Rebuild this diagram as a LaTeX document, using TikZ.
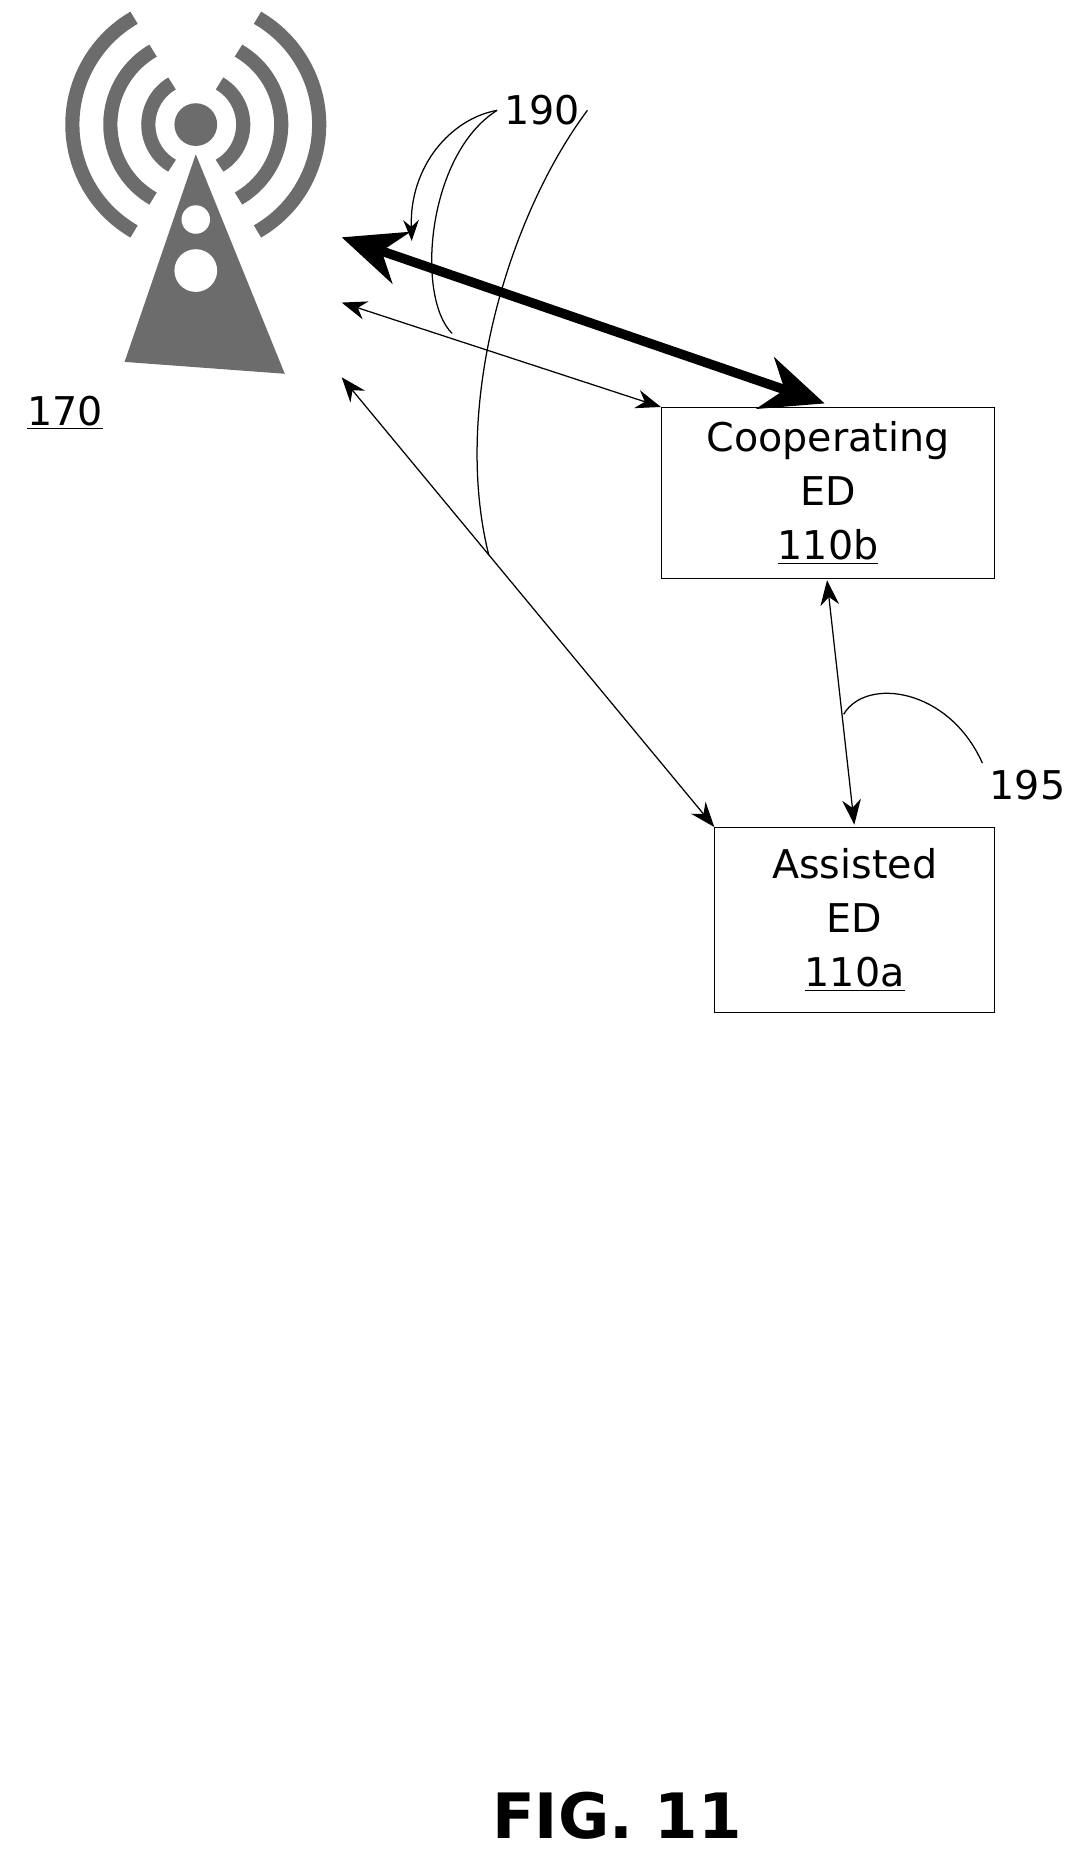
\documentclass[tikz,border=0pt]{standalone}
\usepackage{fontspec}
\setmainfont{DejaVu Sans}
\usetikzlibrary{positioning,arrows.meta,patterns}
\begin{document}
\begin{tikzpicture}[
x=0.02cm, y=-0.02cm,
box/.style={
  draw,
  thin,
  align=center,
  font=\fontsize{19}{26}\selectfont
  },
wave/.style={
  line width=12pt*0.567,
  draw=gray!85!black
  },
link/.style={
  <->,
  >={Stealth[length=12pt,width=9pt]},
  semithick
  },
lbl/.style={
  font=\fontsize{19}{22}\selectfont
  }
]
\useasboundingbox (0,0) rectangle (910,1560);

% tower
\fill[gray!85!black] (165,130) -- (105,305) -- (240,315) -- cycle;
\fill[white] (165,185) circle (12) (165,228) circle (18);
\fill[gray!85!black] (165,105) circle (18);
\foreach \r in {40,72,104}
{
  \draw[wave] (165,105) ++(120:\r) arc (120:240:\r);
  \draw[wave] (165,105) ++(60:\r) arc (60:-60:\r);
}
\node[lbl] (bs) at (55,348) {\underline{170}};

% devices
\node[box, anchor=north west, minimum width=5.62cm, minimum height=2.88cm] (coop) at (557,343) {Cooperating\\ED\\\underline{110b}};
\node[box, anchor=north west, minimum width=4.72cm, minimum height=3.12cm] (assist) at (602,697) {Assisted\\ED\\\underline{110a}};

\coordinate (t1) at (288,200);
\coordinate (t2) at (288,255);
\coordinate (t3) at (288,318);

% links
\draw[<->, >={Stealth[length=30pt,width=26pt]}, line width=8pt*0.567] (t1) -- (695,340);
\draw[link] (t2) -- (coop.north west);
\draw[link] (t3) -- (assist.north west);
\draw[link] (697,489) -- (720,695);

% reference labels
\node[lbl] (r190) at (457,93) {190};
\node[lbl] (r195) at (866,662) {195};
\draw[semithick, -{Stealth[length=10pt]}] (r190.west) .. controls (380,100) and (345,140) .. (347,203);
\draw[semithick] (r190.west) .. controls (360,130) and (350,250) .. (381,281);
\draw[semithick] (r190.east) .. controls (430,180) and (380,340) .. (412,468);
\draw[semithick] (r195.north west) .. controls (800,580) and (730,570) .. (711,602);

\node[font=\bfseries\fontsize{30}{36}\selectfont] (fig) at (520,1530) {FIG. 11};
\end{tikzpicture}
\end{document}
